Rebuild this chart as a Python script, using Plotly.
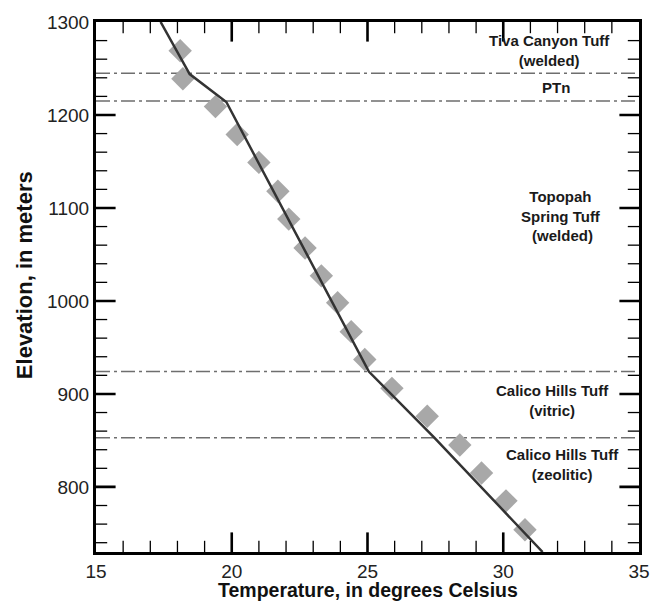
import plotly.graph_objects as go

# measured temperatures (diamonds)
meas_temp = [18.1, 18.2, 19.4, 20.2, 21.0, 21.7, 22.1, 22.7, 23.3, 23.9,
             24.4, 24.9, 25.9, 27.2, 28.4, 29.2, 30.1, 30.8]
meas_elev = [1269, 1239, 1209, 1179, 1149, 1118, 1088, 1057, 1027, 998,
             967, 937, 906, 876, 845, 815, 785, 754]

# model curve
model_temp = [17.38, 18.45, 19.8, 25.05, 27.46, 31.45]
model_elev = [1300, 1244, 1214, 924, 853, 730]

# unit boundaries
boundary_elev = [1245, 1215, 924, 853]

# unit labels
unit_labels = ["Tiva Canyon Tuff<br>(welded)", "PTn",
               "Topopah<br>Spring Tuff<br> (welded)",
               "Calico Hills Tuff<br>(vitric)",
               "Calico Hills Tuff<br>(zeolitic)"]
unit_label_x = [31.72, 31.96, 32.14, 31.8, 32.2]
unit_label_y = [1269, 1229.7, 1091, 893, 824]

# axis ticks
x_major_ticks = [15, 20, 25, 30, 35]
x_minor_ticks = [t for t in range(16, 35) if t % 5 != 0]
y_major_ticks = [800, 900, 1000, 1100, 1200, 1300]
y_minor_ticks = [t for t in range(740, 1300, 20) if t % 100 != 0]

FONT = "Liberation Sans, Arial, sans-serif"
X_RANGE = [15, 35]
Y_RANGE = [730, 1300]

fig = go.Figure()


# tick marks: line markers centred on the frame, clipped to the plot area,
# so only the inward half shows (on all four sides)
def tick_markers(xvals, yvals, size, width):
    traces = []
    xs = [v for v in xvals for _ in (0, 1)]
    ys = [Y_RANGE[i] for _ in xvals for i in (0, 1)]
    traces.append(go.Scatter(
        x=xs, y=ys, mode="markers", cliponaxis=True,
        marker=dict(symbol="line-ns", size=size, color="black",
                    line=dict(width=width, color="black")),
        hoverinfo="skip", showlegend=False))
    xs = [X_RANGE[i] for _ in yvals for i in (0, 1)]
    ys = [v for v in yvals for _ in (0, 1)]
    traces.append(go.Scatter(
        x=xs, y=ys, mode="markers", cliponaxis=True,
        marker=dict(symbol="line-ew", size=size, color="black",
                    line=dict(width=width, color="black")),
        hoverinfo="skip", showlegend=False))
    return traces


for tr in tick_markers(x_minor_ticks, y_minor_ticks, 16, 1.3):
    fig.add_trace(tr)
for tr in tick_markers(x_major_ticks[1:-1], y_major_ticks[:-1], 28, 2.6):
    fig.add_trace(tr)

for e in boundary_elev:
    fig.add_trace(go.Scatter(
        x=X_RANGE, y=[e, e], mode="lines",
        line=dict(color="#6e6e6e", width=1.5, dash="14px,4px,3px,4px"),
        hoverinfo="skip", showlegend=False))

fig.add_trace(go.Scatter(
    x=meas_temp, y=meas_elev, mode="markers",
    marker=dict(symbol="diamond", size=18, color="#a8a8a8", line=dict(width=0)),
    showlegend=False))

fig.add_trace(go.Scatter(
    x=model_temp, y=model_elev, mode="lines",
    line=dict(color="#333333", width=2.5),
    showlegend=False))

for t, x, y in zip(unit_labels, unit_label_x, unit_label_y):
    fig.add_annotation(x=x, y=y, text="<b>%s</b>" % t, showarrow=False,
                       font=dict(family=FONT, size=15, color="#1a1a1a"),
                       align="center", xanchor="center", yanchor="middle")

# axis titles
fig.add_annotation(xref="paper", yref="paper", x=0.5, y=-0.048,
                   xanchor="center", yanchor="top", showarrow=False,
                   text="<b>Temperature, in degrees Celsius</b>",
                   font=dict(family=FONT, size=19.5, color="#111111"))
fig.add_annotation(xref="paper", yref="paper", x=-0.1316, y=0.5215,
                   xanchor="center", yanchor="middle", showarrow=False,
                   textangle=-90,
                   text="<b>Elevation, in meters</b>",
                   font=dict(family=FONT, size=22, color="#111111"))

axis_common = dict(
    showline=True, linecolor="black", linewidth=3, mirror=True,
    ticks="", showgrid=False, zeroline=False,
    tickfont=dict(family=FONT, size=19, color="#222222"),
)

fig.update_layout(
    xaxis=dict(range=X_RANGE, tickvals=x_major_ticks, **axis_common),
    yaxis=dict(range=Y_RANGE, tickvals=y_major_ticks, **axis_common),
    width=662, height=603,
    margin=dict(l=96, r=19, t=17, b=51),
    paper_bgcolor="white", plot_bgcolor="white",
    font=dict(family=FONT),
    showlegend=False,
)

fig.write_html("out.html")
